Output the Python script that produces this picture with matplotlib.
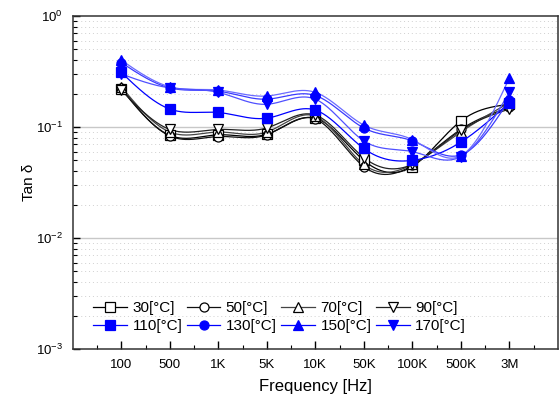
import numpy as np
import matplotlib
matplotlib.use("Agg")
import matplotlib.pyplot as plt
from matplotlib.lines import Line2D
from matplotlib.ticker import LogLocator, NullFormatter, FixedLocator

plt.rcParams['font.family'] = ['Liberation Sans', 'DejaVu Sans']

categories = ['100', '500', '1K', '5K', '10K', '50K', '100K', '500K', '3M']
labels = ['30[°C]', '50[°C]', '70[°C]', '90[°C]', '110[°C]', '130[°C]', '150[°C]', '170[°C]']

t30 = [0.220, 0.084, 0.085, 0.086, 0.120, 0.050, 0.044, 0.113, 0.160]
t50 = [0.225, 0.083, 0.082, 0.085, 0.118, 0.044, 0.045, 0.095, 0.150]
t70 = [0.230, 0.090, 0.090, 0.090, 0.125, 0.046, 0.046, 0.090, 0.165]
t90 = [0.215, 0.095, 0.095, 0.098, 0.128, 0.053, 0.046, 0.093, 0.145]
t110 = [0.310, 0.145, 0.135, 0.120, 0.142, 0.064, 0.050, 0.073, 0.165]
t130 = [0.380, 0.225, 0.210, 0.178, 0.192, 0.098, 0.075, 0.056, 0.175]
t150 = [0.400, 0.230, 0.215, 0.190, 0.205, 0.104, 0.077, 0.055, 0.275]
t170 = [0.300, 0.225, 0.205, 0.160, 0.178, 0.075, 0.060, 0.054, 0.205]

series = [t30, t50, t70, t90, t110, t130, t150, t170]
markers = ['s', 'o', '^', 'v', 's', 'o', '^', 'v']
line_colors = ['#000000', '#111111', '#444444', '#222222',
               '#0000ff', '#3a3aff', '#6a6aff', '#5050ff']
mfc = ['white'] * 4 + ['#0000ff'] * 4
mec = ['black'] * 4 + ['#0000ff'] * 4


def natural_spline(x, y, xs):
    x = np.asarray(x, float)
    y = np.asarray(y, float)
    n = len(x)
    h = np.diff(x)
    A = np.zeros((n, n))
    r = np.zeros(n)
    A[0, 0] = 1
    A[-1, -1] = 1
    for i in range(1, n - 1):
        A[i, i - 1] = h[i - 1]
        A[i, i] = 2 * (h[i - 1] + h[i])
        A[i, i + 1] = h[i]
        r[i] = 6 * ((y[i + 1] - y[i]) / h[i] - (y[i] - y[i - 1]) / h[i - 1])
    M = np.linalg.solve(A, r)
    out = np.empty_like(xs)
    for k, xv in enumerate(xs):
        i = min(max(np.searchsorted(x, xv) - 1, 0), n - 2)
        a = x[i + 1] - xv
        b = xv - x[i]
        out[k] = (M[i] * a ** 3 / (6 * h[i]) + M[i + 1] * b ** 3 / (6 * h[i])
                  + (y[i] / h[i] - M[i] * h[i] / 6) * a
                  + (y[i + 1] / h[i] - M[i + 1] * h[i] / 6) * b)
    return out


fig = plt.figure(figsize=(5.6, 3.98), dpi=100)
ax = fig.add_axes([0.130, 0.123, 0.866, 0.837])
ax.set_yscale('log')
ax.set_ylim(1e-3, 1)
ax.set_xlim(0, 10)

xpos = np.arange(1, len(categories) + 1)
xs = np.linspace(xpos[0], xpos[-1], 400)

# grid
for yv in [1e-1, 1e-2]:
    ax.axhline(yv, color='#c8c8c8', lw=1.0, zorder=0)
for d in [1e-3, 1e-2, 1e-1]:
    for m in range(2, 10):
        ax.axhline(d * m, color='#d0d0d0', lw=0.7, ls=(0, (1, 3)), zorder=0)

handles = []
for i, s in enumerate(series):
    ys = 10 ** natural_spline(xpos, np.log10(s), xs)
    ax.plot(xs, ys, color=line_colors[i], lw=0.9, zorder=2)
    ax.plot(xpos, s, linestyle='none', marker=markers[i], ms=6.5,
            mfc=mfc[i], mec=mec[i], mew=0.9, zorder=3)
    handles.append(Line2D([], [], color=line_colors[i] if i < 4 else '#0000ff', lw=0.9,
                          marker=markers[i], ms=6.5, mfc=mfc[i], mec=mec[i], mew=0.9))

# legend fills column-major: reorder so rows read 30..90 / 110..170
order = [0, 4, 1, 5, 2, 6, 3, 7]
leg_handles = [handles[k] for k in order]
leg_labels = [labels[k] for k in order]

ax.xaxis.set_major_locator(FixedLocator(xpos))
ax.xaxis.set_minor_locator(FixedLocator(np.arange(0.5, 10, 1.0)))
ax.set_xticklabels(categories)
ax.yaxis.set_major_locator(LogLocator(base=10, numticks=10))
ax.yaxis.set_minor_locator(LogLocator(base=10, subs=np.arange(2, 10), numticks=20))
ax.yaxis.set_minor_formatter(NullFormatter())

ax.tick_params(axis='both', which='major', direction='in', length=5, width=1,
               labelsize=9.5, pad=7)
ax.tick_params(axis='both', which='minor', direction='in', length=3, width=0.8)
ax.tick_params(axis='x', which='major', length=6)

for sp in ax.spines.values():
    sp.set_linewidth(1.1)
    sp.set_color('#333333')

ax.set_xlabel('Frequency [Hz]', fontsize=12, labelpad=6)
ax.set_ylabel('Tan δ', fontsize=11, labelpad=4)
ax.yaxis.set_label_coords(-0.075, 0.5)

leg = ax.legend(leg_handles, leg_labels, ncol=4, loc='lower left',
                bbox_to_anchor=(0.03, 0.03), frameon=False, fontsize=11,
                handlelength=2.2, handletextpad=0.35, columnspacing=0.3,
                labelspacing=0.25, borderaxespad=0)

fig.savefig('out.png', dpi=100)
